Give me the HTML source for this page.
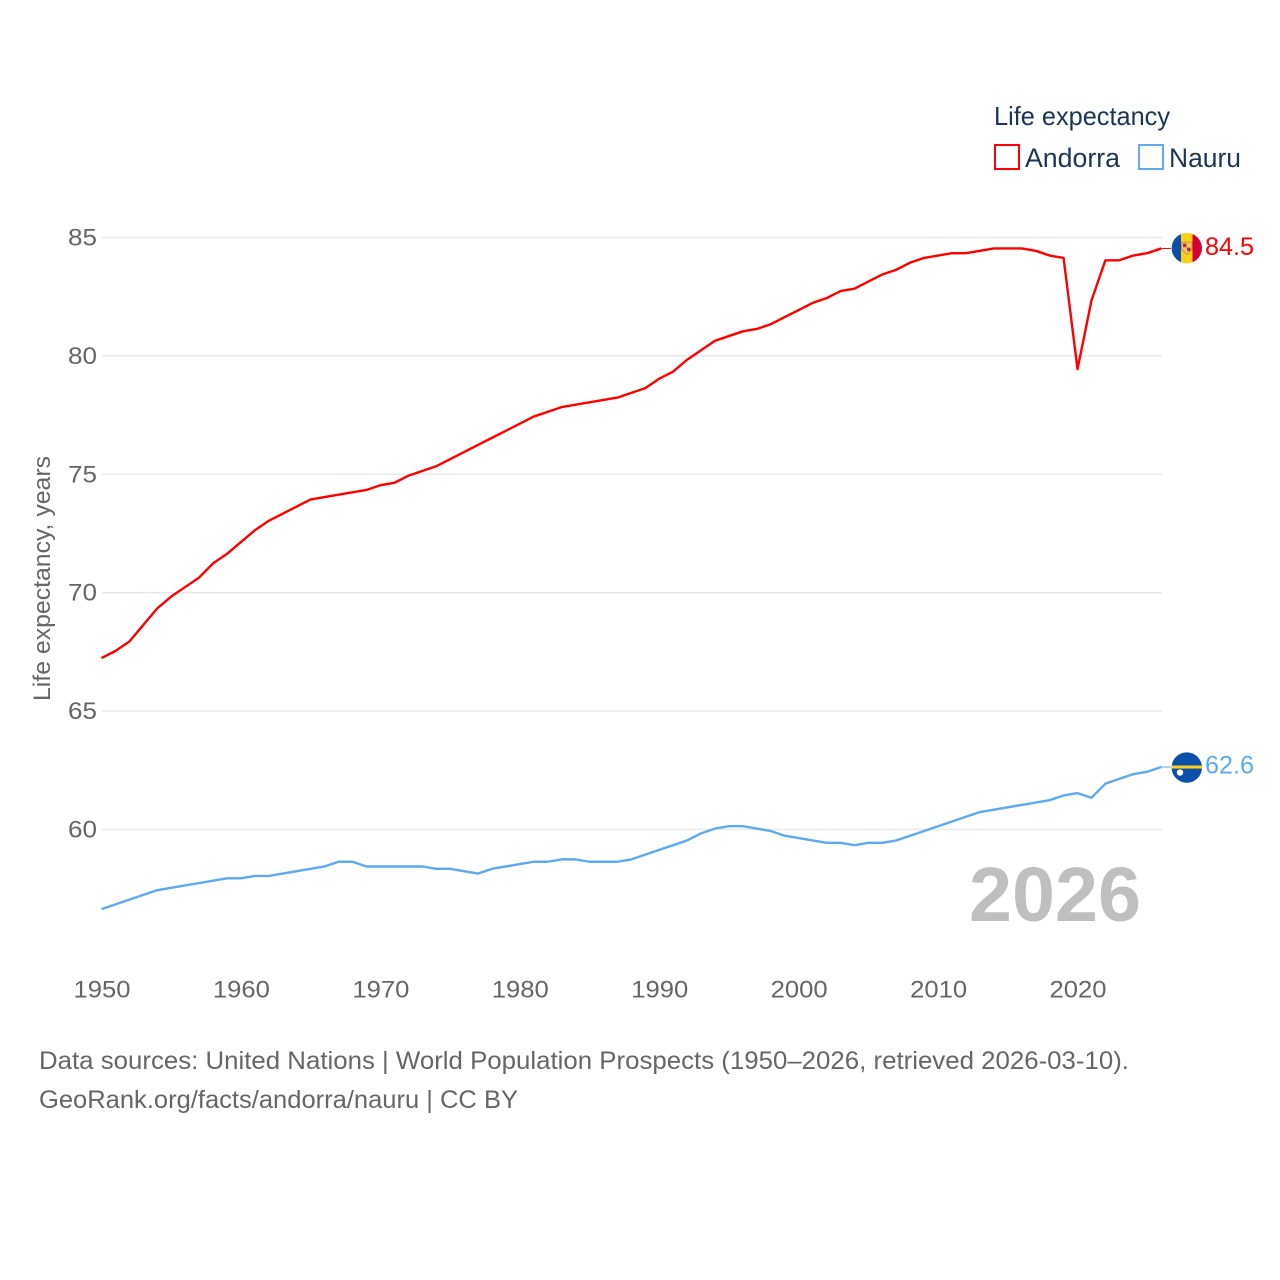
<!DOCTYPE html>
<html lang="en">
<head>
<meta charset="utf-8">
<title>Life expectancy: Andorra and Nauru</title>
<style>
html,body{margin:0;padding:0;background:#fff;}
svg{display:block;}
text{font-family:"Liberation Sans",sans-serif;}
</style>
</head>
<body>
<svg id="chart" xmlns="http://www.w3.org/2000/svg" width="1280" height="1280" viewBox="0 0 1280 1280">
  <rect width="1280" height="1280" fill="#fff"/>
  <g id="grid"></g>
  <g id="yticks"></g>
  <g id="xticks"></g>
  <text transform="translate(50,701) rotate(-90)" font-size="24" fill="#666" textLength="245" lengthAdjust="spacingAndGlyphs">Life expectancy, years</text>
  <text x="969" y="921" font-size="77" font-weight="bold" fill="#bfbfbf" textLength="172" lengthAdjust="spacingAndGlyphs">2026</text>
  <g id="series"></g>

  <g>
    <text x="994" y="125" font-size="26" fill="#1a3557" textLength="176" lengthAdjust="spacingAndGlyphs">Life expectancy</text>
    <g>
      <rect x="995" y="145" width="24" height="24" fill="none" stroke="#ff0000" stroke-width="2"/>
      <text x="1025" y="167" font-size="27" fill="#1a3557" textLength="95" lengthAdjust="spacingAndGlyphs">Andorra</text>
    </g>
    <g>
      <rect x="1139" y="145" width="24" height="24" fill="none" stroke="#5ea9f0" stroke-width="2"/>
      <text x="1169" y="167" font-size="27" fill="#1a3557" textLength="72" lengthAdjust="spacingAndGlyphs">Nauru</text>
    </g>
  </g>

  <text x="39" y="1069" font-size="25" fill="#666" textLength="1090" lengthAdjust="spacingAndGlyphs">Data sources: United Nations | World Population Prospects (1950–2026, retrieved 2026-03-10).</text>
  <text x="39" y="1108" font-size="25" fill="#666" textLength="479" lengthAdjust="spacingAndGlyphs">GeoRank.org/facts/andorra/nauru | CC BY</text>
</svg>
<script>
const startYear = 1950;
const xTickYears = [1950, 1960, 1970, 1980, 1990, 2000, 2010, 2020];
const yTickValues = [60, 65, 70, 75, 80, 85];
const andorraValues = [
  67.2,67.5,67.9,68.6,69.3,69.8,70.2,70.6,71.2,71.6,
  72.1,72.6,73.0,73.3,73.6,73.9,74.0,74.1,74.2,74.3,
  74.5,74.6,74.9,75.1,75.3,75.6,75.9,76.2,76.5,76.8,
  77.1,77.4,77.6,77.8,77.9,78.0,78.1,78.2,78.4,78.6,
  79.0,79.3,79.8,80.2,80.6,80.8,81.0,81.1,81.3,81.6,
  81.9,82.2,82.4,82.7,82.8,83.1,83.4,83.6,83.9,84.1,
  84.2,84.3,84.3,84.4,84.5,84.5,84.5,84.4,84.2,84.1,
  79.4,82.3,84.0,84.0,84.2,84.3,84.5
];
const nauruValues = [
  56.6,56.8,57.0,57.2,57.4,57.5,57.6,57.7,57.8,57.9,
  57.9,58.0,58.0,58.1,58.2,58.3,58.4,58.6,58.6,58.4,
  58.4,58.4,58.4,58.4,58.3,58.3,58.2,58.1,58.3,58.4,
  58.5,58.6,58.6,58.7,58.7,58.6,58.6,58.6,58.7,58.9,
  59.1,59.3,59.5,59.8,60.0,60.1,60.1,60.0,59.9,59.7,
  59.6,59.5,59.4,59.4,59.3,59.4,59.4,59.5,59.7,59.9,
  60.1,60.3,60.5,60.7,60.8,60.9,61.0,61.1,61.2,61.4,
  61.5,61.3,61.9,62.1,62.3,62.4,62.6
];

const NS = 'http://www.w3.org/2000/svg';
const xScale = year => 102 + (year - 1950) * 13.943;
const yScale = value => 829.5 - (value - 60) * 23.68;
const lineDx = -0.5;
const lineDy = -0.9;

function make(tag, attrs, parent, content) {
  const el = document.createElementNS(NS, tag);
  for (const k in attrs) el.setAttribute(k, attrs[k]);
  if (content !== undefined) el.textContent = content;
  parent.appendChild(el);
  return el;
}

const grid = document.getElementById('grid');
const yticks = document.getElementById('yticks');
const xticks = document.getElementById('xticks');
const seriesLayer = document.getElementById('series');

yTickValues.forEach(v => {
  const line = make('line', {x1: 102, x2: 1162, y1: yScale(v), y2: yScale(v), stroke: '#e9e9e9', 'stroke-width': 1.5}, grid);
  
  
  const label = make('text', {x: 68, y: yScale(v) + 8, 'font-size': 24, fill: '#666', textLength: 29, lengthAdjust: 'spacingAndGlyphs'}, yticks, String(v));
  
  
});

xTickYears.forEach(year => {
  const label = make('text', {x: xScale(year) - 28.5, y: 997.5, 'font-size': 24, fill: '#666', textLength: 57, lengthAdjust: 'spacingAndGlyphs'}, xticks, String(year));
  
  
});

function drawSeries(key, values, color) {
  const pts = values.map((v, i) => (xScale(startYear + i) + lineDx).toFixed(2) + ',' + (yScale(v) + lineDy).toFixed(2)).join(' ');
  const line = make('polyline', {points: pts, fill: 'none', stroke: color, 'stroke-width': 2.4, 'stroke-linejoin': 'round'}, seriesLayer);
  
  
  const last = values[values.length - 1];
  const endX = xScale(startYear + values.length - 1) + lineDx;
  const endY = yScale(last);
  const connector = make('line', {x1: endX, x2: 1171, y1: endY + lineDy, y2: endY + lineDy, stroke: color, 'stroke-width': 1}, seriesLayer);
  
  
  const label = make('text', {x: 1205, y: endY + 5.5, 'font-size': 25, fill: color, textLength: 49, lengthAdjust: 'spacingAndGlyphs'}, seriesLayer, last.toFixed(1));
  
  
  return endY;
}

const andorraY = drawSeries('andorra', andorraValues, '#ff0000');
const nauruY = drawSeries('nauru', nauruValues, '#5ea9f0');

function flagGroup(key, cy) {
  const g = make('g', {}, seriesLayer);
  
  
  const clip = make('clipPath', {id: 'clip-' + key}, g);
  make('circle', {cx: 1186.8, cy: cy, r: 15.2}, clip);
  return make('g', {'clip-path': 'url(#clip-' + key + ')'}, g);
}

const aCy = andorraY - 1.2;
const aFlag = flagGroup('andorra', aCy);
make('rect', {x: 1171, y: aCy - 16, width: 10, height: 32, fill: '#0a4fa8'}, aFlag);
make('rect', {x: 1181, y: aCy - 16, width: 11.5, height: 32, fill: '#fcd116'}, aFlag);
make('rect', {x: 1192.5, y: aCy - 16, width: 10, height: 32, fill: '#d50032'}, aFlag);
make('path', {d: `M1181.5 ${aCy - 6}h10.5v7l-5.25 5.5l-5.25-5.5z`, fill: '#f3c56b', stroke: '#e08a30', 'stroke-width': 1}, aFlag);
make('rect', {x: 1183, y: aCy - 4.5, width: 3.5, height: 3.5, fill: '#c8242f'}, aFlag);
make('rect', {x: 1187, y: aCy - 0.5, width: 3.5, height: 3.5, fill: '#c8242f'}, aFlag);

const nCy = nauruY - 0.4;
const nFlag = flagGroup('nauru', nCy);
make('rect', {x: 1171, y: nCy - 16, width: 32, height: 32, fill: '#0a4fa8'}, nFlag);
make('rect', {x: 1171, y: nCy - 2, width: 32, height: 3, fill: '#fcd116'}, nFlag);
make('circle', {cx: 1180, cy: nCy + 5, r: 3.2, fill: '#fff'}, nFlag);
</script>
</body>
</html>
